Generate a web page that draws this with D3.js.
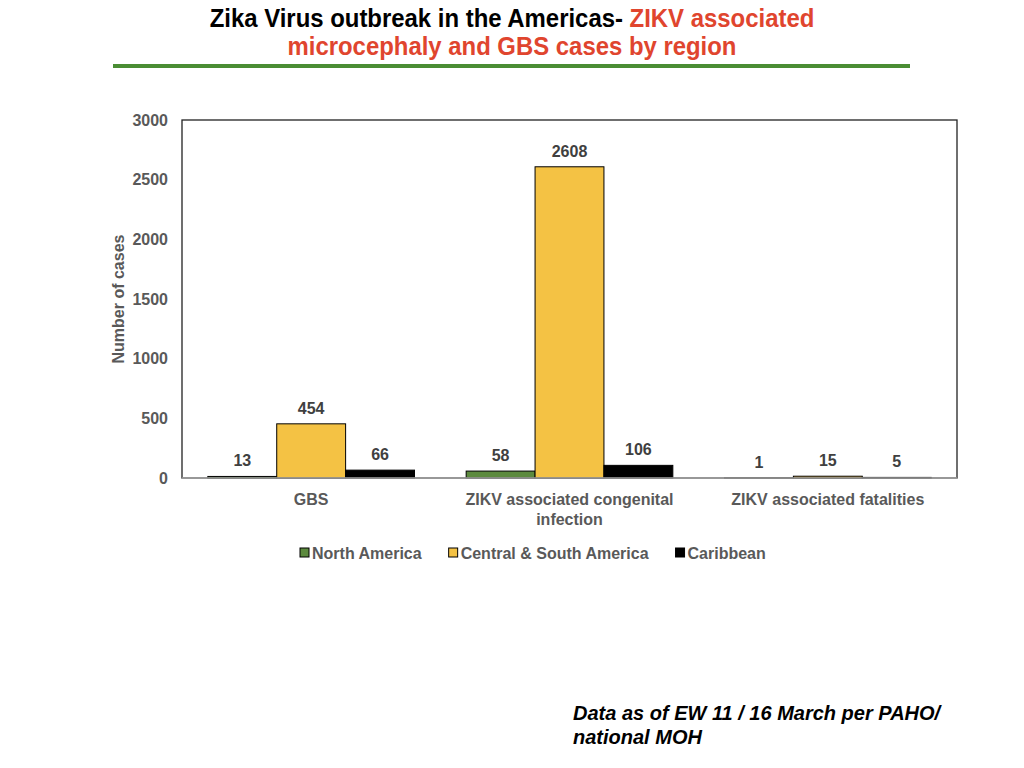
<!DOCTYPE html>
<html>
<head>
<meta charset="utf-8">
<script src="https://cdn.jsdelivr.net/npm/d3@7"></script>
<style>
html,body{margin:0;padding:0;background:#fff;}
svg{display:block;}
</style>
</head>
<body>
<svg id="chart" width="1024" height="768"></svg>
<script>
const categories = ["GBS", "ZIKV associated congenital infection", "ZIKV associated fatalities"];
const categoryLines = [["GBS"], ["ZIKV associated congenital", "infection"], ["ZIKV associated fatalities"]];
const seriesNames = ["North America", "Central & South America", "Caribbean"];
const northAmerica = [13, 58, 1];
const centralSouthAmerica = [454, 2608, 15];
const caribbean = [66, 106, 5];
const yTicks = [0, 500, 1000, 1500, 2000, 2500, 3000];
const seriesColors = ["#5c8a3e", "#f4c244", "#000000"];

const seriesValues = [northAmerica, centralSouthAmerica, caribbean];
const svg = d3.select("#chart");
const m = {left: 182, right: 957, top: 120, bottom: 478};

const narrow = "'Liberation Sans Narrow','Arial Narrow','Liberation Sans',Arial,sans-serif";
const sans = "'Liberation Sans',Arial,Helvetica,sans-serif";

// helper: squeeze text horizontally to a target width, centred at cx
function fitWidth(sel, cx, target) {
  const w = sel.node().getComputedTextLength();
  const s = target / w;
  sel.attr("transform", `translate(${cx},0) scale(${s},1) translate(${-cx},0)`);
}

// Title
const t1 = svg.append("text").attr("x", 512).attr("y", 27).attr("text-anchor", "middle")
  .style("font-family", narrow).style("font-weight", "bold").style("font-size", "26px");
t1.append("tspan").attr("fill", "#000").text("Zika Virus outbreak in the Americas- ");
t1.append("tspan").attr("fill", "#e0452e").text("ZIKV associated");
fitWidth(t1, 512, 605);
const t2 = svg.append("text").attr("x", 512).attr("y", 55).attr("text-anchor", "middle")
  .style("font-family", narrow).style("font-weight", "bold").style("font-size", "26px")
  .attr("fill", "#e0452e").text("microcephaly and GBS cases by region");
fitWidth(t2, 512, 449);
svg.append("rect").attr("x", 113).attr("y", 64).attr("width", 797).attr("height", 4).attr("fill", "#4a8d34");

// Scales
const x0 = d3.scaleBand().domain(categories).range([m.left, m.right]).paddingInner(0.2).paddingOuter(0.1);
const x1 = d3.scaleBand().domain(seriesNames).range([0, x0.bandwidth()]);
const y = d3.scaleLinear().domain([0, 3000]).range([m.bottom, m.top]);

// Frame
svg.append("rect").attr("x", m.left).attr("y", m.top).attr("width", m.right - m.left).attr("height", m.bottom - m.top)
  .attr("fill", "none").attr("stroke", "#222").attr("stroke-width", 1.3);

// Y axis
const yAxis = d3.axisLeft(y).tickValues(yTicks).tickFormat(d3.format("d")).tickSize(0).tickPadding(14);
const ya = svg.append("g").attr("transform", `translate(${m.left},0)`).call(yAxis);
ya.select(".domain").remove();
ya.selectAll("text").style("font-family", sans).style("font-weight", "bold").style("font-size", "16px").attr("fill", "#595959");

svg.append("text").attr("transform", `translate(124,${(m.top + m.bottom) / 2}) rotate(-90)`)
  .attr("text-anchor", "middle").style("font-family", sans).style("font-weight", "bold").style("font-size", "16px")
  .attr("fill", "#595959").text("Number of cases");

// Bars
const data = [];
categories.forEach((c, i) => seriesNames.forEach((s, j) => data.push({c, s, j, v: seriesValues[j][i]})));
const bars = svg.append("g");
bars.selectAll("rect").data(data).enter().append("rect")
  .attr("x", d => x0(d.c) + x1(d.s))
  .attr("y", d => y(d.v))
  .attr("width", x1.bandwidth())
  .attr("height", d => y(0) - y(d.v))
  .attr("fill", (d) => seriesColors[d.j])
  .attr("stroke", "#000").attr("stroke-width", 1);

bars.selectAll("text").data(data).enter().append("text")
  .attr("x", d => x0(d.c) + x1(d.s) + x1.bandwidth() / 2)
  .attr("y", d => y(d.v) - 10)
  .attr("text-anchor", "middle")
  .style("font-family", sans).style("font-weight", "bold").style("font-size", "16px")
  .attr("fill", "#404040").text(d => d.v);

// Baseline axis
svg.append("line").attr("x1", m.left).attr("x2", m.right).attr("y1", y(0)).attr("y2", y(0))
  .attr("stroke", "#a6a6a6").attr("stroke-width", 1.5);

// Category labels
const cl = svg.append("g");
categories.forEach((c, i) => {
  const cx = x0(c) + x0.bandwidth() / 2;
  const t = cl.append("text").attr("x", cx).attr("y", 505).attr("text-anchor", "middle")
    .style("font-family", sans).style("font-weight", "bold").style("font-size", "16px").attr("fill", "#595959");
  categoryLines[i].forEach((ln, k) => {
    t.append("tspan").attr("x", cx).attr("dy", k === 0 ? 0 : 20).text(ln);
  });
});

// Legend
const lg = svg.append("g");
let lx = 300;
seriesNames.forEach((s, j) => {
  lg.append("rect").attr("x", lx).attr("y", 548).attr("width", 9).attr("height", 9)
    .attr("fill", seriesColors[j]).attr("stroke", "#000").attr("stroke-width", 1);
  const t = lg.append("text").attr("x", lx + 12).attr("y", 559)
    .style("font-family", sans).style("font-weight", "bold").style("font-size", "16px").attr("fill", "#595959").text(s);
  lx += 12 + t.node().getComputedTextLength() + 27;
});

// Footnote
const fn = svg.append("text").attr("x", 573).attr("y", 720)
  .style("font-family", sans).style("font-weight", "bold").style("font-style", "italic").style("font-size", "20px").attr("fill", "#000");
fn.append("tspan").attr("x", 573).attr("dy", 0).text("Data as of EW 11 / 16 March per PAHO/");
fn.append("tspan").attr("x", 573).attr("dy", 24).text("national MOH");
</script>
</body>
</html>
